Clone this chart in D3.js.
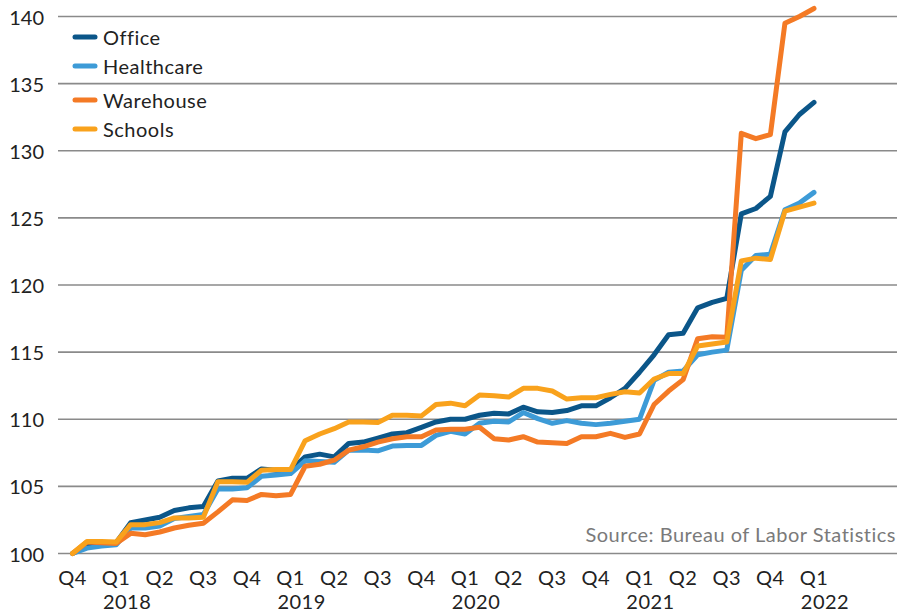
<!DOCTYPE html>
<html>
<head>
<meta charset="utf-8">
<script src="https://cdn.jsdelivr.net/npm/d3@7"></script>
<style>
  html, body { margin: 0; padding: 0; background: #fff; }
  svg { display: block; font-family: Lato, "Open Sans", sans-serif; }
  .lbl { letter-spacing: 0.5px; }
</style>
</head>
<body>
<svg id="chart" width="908" height="614"></svg>
<script>
// ---- DATA ----
const seriesNames = ["Office", "Healthcare", "Warehouse", "Schools"];
const office = [100,100.6,100.7,100.8,102.3,102.5,102.7,103.2,103.4,103.5,105.4,105.6,105.6,106.3,106.2,106.2,107.2,107.4,107.2,108.2,108.3,108.6,108.9,109.0,109.4,109.8,110.0,110.0,110.3,110.45,110.4,110.9,110.55,110.5,110.65,111.0,111.0,111.6,112.3,113.5,114.8,116.3,116.4,118.3,118.7,119.0,125.3,125.7,126.6,131.4,132.7,133.6];
const healthcare = [100,100.4,100.55,100.65,101.9,101.9,102.05,102.6,102.75,102.9,104.8,104.8,104.9,105.75,105.85,105.95,106.9,106.85,106.8,107.7,107.7,107.65,108.0,108.05,108.05,108.8,109.1,108.9,109.7,109.85,109.8,110.5,110.05,109.7,109.9,109.7,109.6,109.7,109.85,110.0,112.9,113.5,113.6,114.8,115.0,115.15,121.1,122.2,122.3,125.6,126.1,126.9];
const warehouse = [100,100.85,100.8,100.75,101.5,101.4,101.6,101.9,102.1,102.25,103.1,104.0,103.95,104.4,104.3,104.4,106.5,106.65,106.95,107.7,107.95,108.3,108.55,108.7,108.7,109.2,109.25,109.25,109.4,108.55,108.45,108.7,108.3,108.25,108.2,108.7,108.7,108.95,108.65,108.9,111.1,112.1,112.95,116.0,116.15,116.1,131.3,130.9,131.2,139.5,140.0,140.6];
const schools = [100,100.9,100.9,100.85,102.15,102.15,102.3,102.65,102.65,102.7,105.35,105.35,105.3,106.2,106.25,106.25,108.4,108.9,109.3,109.8,109.8,109.75,110.3,110.3,110.25,111.1,111.2,111.0,111.8,111.75,111.65,112.3,112.3,112.1,111.5,111.6,111.6,111.85,112.05,111.95,113.0,113.4,113.4,115.45,115.6,115.75,121.8,122.0,121.9,125.5,125.8,126.1];
// monthly periods, Dec 2017 .. Mar 2022; a quarter label every 3 months
const quarterLabels = ["Q4","Q1","Q2","Q3","Q4","Q1","Q2","Q3","Q4","Q1","Q2","Q3","Q4","Q1","Q2","Q3","Q4","Q1"];
const yearLabels = ["2018","2019","2020","2021","2022"];
const yTicks = [100,105,110,115,120,125,130,135,140];
const sourceText = "Source: Bureau of Labor Statistics";

const colors = ["#0b5689", "#3d9bd7", "#f47a25", "#f9a21c"];
const allSeries = [office, healthcare, warehouse, schools];

// ---- SCALES ----
const svg = d3.select("#chart");
const nPts = office.length;
const x = d3.scaleLinear().domain([0, nPts - 1]).range([72.5, 814]);
const y = d3.scaleLinear().domain([100, 140]).range([553.5, 16.5]);

// gridlines
svg.append("g").selectAll("line").data(yTicks).join("line")
  .attr("x1", 58).attr("x2", 897)
  .attr("y1", d => y(d)).attr("y2", d => y(d))
  .attr("stroke", "#8a8a8a").attr("stroke-width", 1.6);

// y labels
svg.append("g").selectAll("text").data(yTicks).join("text")
  .attr("x", 44).attr("y", d => y(d))
  .attr("text-anchor", "end").attr("dominant-baseline", "central")
  .attr("font-size", 20).attr("fill", "#222")
  .text(d => d);

// x labels
svg.append("g").attr("class", "lbl").selectAll("text").data(quarterLabels).join("text")
  .attr("x", (d, i) => x(i * 3)).attr("y", 585)
  .attr("text-anchor", "middle")
  .attr("font-size", 20).attr("fill", "#222")
  .text(d => d);
svg.append("g").attr("class", "lbl").selectAll("text").data(yearLabels).join("text")
  .attr("x", (d, i) => x(3 + i * 12) + 11).attr("y", 609)
  .attr("text-anchor", "middle")
  .attr("font-size", 20).attr("fill", "#222")
  .text(d => d);

// source
svg.append("text").attr("class", "lbl").attr("x", 896).attr("y", 542)
  .attr("text-anchor", "end").attr("font-size", 20).attr("fill", "#7a7a7a")
  .text(sourceText);

// lines
const line = d3.line().x((d, i) => x(i)).y(d => y(d));
svg.append("g").selectAll("path").data(allSeries).join("path")
  .attr("d", d => line(d))
  .attr("fill", "none")
  .attr("stroke", (d, i) => colors[i])
  .attr("stroke-width", 5)
  .attr("stroke-linejoin", "round")
  .attr("stroke-linecap", "round");

// legend
const legendY = [37, 66, 100, 129];
const lg = svg.append("g").attr("class", "lbl").selectAll("g").data(seriesNames).join("g")
  .attr("transform", (d, i) => `translate(0,${legendY[i]})`);
lg.append("line").attr("x1", 75).attr("x2", 95).attr("y1", 0).attr("y2", 0)
  .attr("stroke", (d, i) => colors[i]).attr("stroke-width", 5).attr("stroke-linecap", "round");
lg.append("text").attr("x", 103).attr("y", 0).attr("dominant-baseline", "central")
  .attr("font-size", 20).attr("fill", "#222").text(d => d);
</script>
</body>
</html>
